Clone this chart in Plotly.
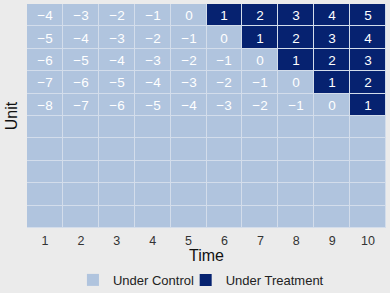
import plotly.graph_objects as go

times = [1, 2, 3, 4, 5, 6, 7, 8, 9, 10]
units = [1, 2, 3, 4, 5, 6, 7, 8, 9, 10]
# treatment status per unit (row) and time (column): 0 = control, 1 = treated
status = [
    [0, 0, 0, 0, 0, 1, 1, 1, 1, 1],
    [0, 0, 0, 0, 0, 0, 1, 1, 1, 1],
    [0, 0, 0, 0, 0, 0, 0, 1, 1, 1],
    [0, 0, 0, 0, 0, 0, 0, 0, 1, 1],
    [0, 0, 0, 0, 0, 0, 0, 0, 0, 1],
    [0, 0, 0, 0, 0, 0, 0, 0, 0, 0],
    [0, 0, 0, 0, 0, 0, 0, 0, 0, 0],
    [0, 0, 0, 0, 0, 0, 0, 0, 0, 0],
    [0, 0, 0, 0, 0, 0, 0, 0, 0, 0],
    [0, 0, 0, 0, 0, 0, 0, 0, 0, 0],
]
# relative-time labels shown in each cell
labels = [
    ["−4", "−3", "−2", "−1", "0", "1", "2", "3", "4", "5"],
    ["−5", "−4", "−3", "−2", "−1", "0", "1", "2", "3", "4"],
    ["−6", "−5", "−4", "−3", "−2", "−1", "0", "1", "2", "3"],
    ["−7", "−6", "−5", "−4", "−3", "−2", "−1", "0", "1", "2"],
    ["−8", "−7", "−6", "−5", "−4", "−3", "−2", "−1", "0", "1"],
    [""] * 10, [""] * 10, [""] * 10, [""] * 10, [""] * 10,
]
legend_names = ["Under Control", "Under Treatment"]
colors = ["#B0C4DE", "#062270"]

fig = go.Figure()
fig.add_trace(go.Heatmap(
    x=times, y=units, z=status, text=labels,
    texttemplate="%{text}",
    textfont=dict(color="white", size=13.5, family="Liberation Sans, Arial"),
    colorscale=[[0, colors[0]], [0.5, colors[0]], [0.5, colors[1]], [1, colors[1]]],
    zmin=0, zmax=1, showscale=False, xgap=1, ygap=1, hoverinfo="skip",
    showlegend=False,
))
for name, c, lg in zip(legend_names, colors, ["legend", "legend2"]):
    fig.add_trace(go.Scatter(
        x=[None], y=[None], mode="markers", name=name, legend=lg,
        marker=dict(symbol="square", size=12, color=c),
    ))

leg_common = dict(orientation="h", y=-0.165, yanchor="top",
                  font=dict(size=13, color="#222222"), bgcolor="rgba(0,0,0,0)",
                  itemsizing="trace", itemwidth=30)
fig.update_layout(
    width=390, height=293,
    margin=dict(l=27, r=4, t=4, b=65, autoexpand=False),
    paper_bgcolor="#EBEBEB",
    plot_bgcolor="#D3DDEB",
    font=dict(family="Liberation Sans, Arial", color="#333333", size=12),
    showlegend=True,
    legend=dict(x=0.128, xanchor="left", **leg_common),
    legend2=dict(x=0.442, xanchor="left", **leg_common),
)
fig.update_xaxes(
    tickvals=times, ticktext=[str(t) for t in times],
    range=[0.5, 10.5], showgrid=False, zeroline=False, ticks="",
    tickfont=dict(size=12.5, color="#333333"), ticklabelstandoff=3,
    title=dict(text="Time", font=dict(size=16, color="#111111"), standoff=2),
    automargin=False,
)
fig.update_yaxes(
    autorange="reversed", showticklabels=False, showgrid=False, zeroline=False, ticks="",
    title=dict(text="Unit", font=dict(size=16, color="#111111"), standoff=4),
    automargin=False,
)

fig.write_html("out.html", config={"displayModeBar": False},
               post_script="document.body.style.margin='0px';")
